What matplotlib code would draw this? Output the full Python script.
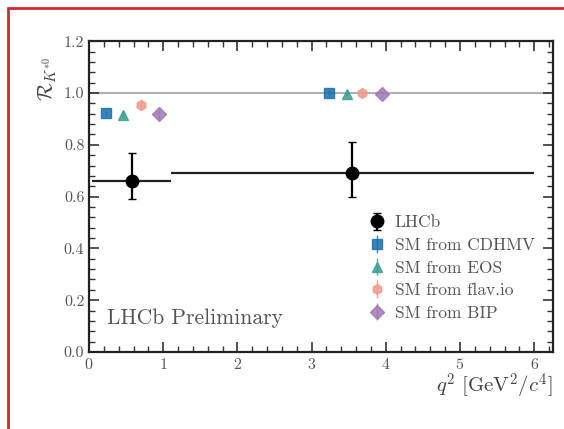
import matplotlib
matplotlib.use("Agg")
import matplotlib.pyplot as plt
from matplotlib.patches import Rectangle
from matplotlib.ticker import MultipleLocator

plt.rcParams['font.family'] = 'serif'
plt.rcParams['font.serif'] = ['cmr10', 'DejaVu Serif']
plt.rcParams['mathtext.fontset'] = 'cm'
plt.rcParams['axes.formatter.use_mathtext'] = True

# LHCb measurement
bin_lo = [0.045, 1.1]
bin_hi = [1.1, 6.0]
lhcb_val = [0.66, 0.69]
lhcb_up = [0.11, 0.12]
lhcb_dn = [0.07, 0.09]

# SM predictions (x position, value)
sm_names = ["SM from CDHMV", "SM from EOS", "SM from flav.io", "SM from BIP"]
sm_x = [[0.23, 3.23], [0.46, 3.47], [0.70, 3.68], [0.94, 3.95]]
sm_y = [[0.922, 1.000], [0.915, 0.996], [0.955, 1.000], [0.920, 0.995]]
sm_err = [[0.01, 0.01], [0.012, 0.008], [0.02, 0.01], [0.02, 0.01]]
sm_colors = ["#1a6fae", "#3a9e92", "#f09a88", "#a078b4"]
sm_markers = ["s", "^", "h", "D"]

fig = plt.figure(figsize=(5.64, 4.29), dpi=100)
ax = fig.add_axes([0.158, 0.1795, 0.822, 0.7245])

ax.axhline(1.0, color="#b0b0b0", lw=1.5, zorder=1)

handles = []
for xs, ys, es, c, m, n in zip(sm_x, sm_y, sm_err, sm_colors, sm_markers, sm_names):
    h = ax.errorbar(xs, ys, yerr=es, fmt=m, color=c, ms=7, elinewidth=1, alpha=0.85,
                    capsize=0, label=n, zorder=3)
    handles.append(h)

for lo, hi, v in zip(bin_lo, bin_hi, lhcb_val):
    ax.hlines(v, lo, hi, color="#222222", lw=1.6, zorder=4)
centers = [(lo + hi) / 2 for lo, hi in zip(bin_lo, bin_hi)]
hl = ax.errorbar(centers, lhcb_val, yerr=[lhcb_dn, lhcb_up], fmt="o", color="black",
                 ms=9, elinewidth=1.6, capsize=3, label="LHCb", zorder=5)

ax.set_xlim(0, 6.25)
ax.set_ylim(0, 1.2)
ax.xaxis.set_major_locator(MultipleLocator(1))
ax.xaxis.set_minor_locator(MultipleLocator(0.2))
ax.yaxis.set_major_locator(MultipleLocator(0.2))
ax.yaxis.set_minor_locator(MultipleLocator(0.04))
ax.yaxis.set_major_formatter(matplotlib.ticker.FormatStrFormatter('%.1f'))
ax.tick_params(which='both', direction='in', top=True, right=True, labelsize=11.5,
               colors='#333333', labelcolor='#555555')
ax.tick_params(which='major', length=7, width=1.2)
ax.tick_params(which='minor', length=4, width=1)
for s in ax.spines.values():
    s.set_linewidth(1.6)
    s.set_color('#222222')

ax.set_ylabel(r"$\mathcal{R}_{K^{*0}}$", fontsize=15, color='#444444')
ax.yaxis.set_label_coords(-0.065, 0.88)
ax.set_xlabel(r"$q^2\ [\mathrm{GeV}^2/c^4]$", fontsize=15, color='#444444')
ax.xaxis.set_label_coords(1.0, -0.065)
ax.xaxis.label.set_horizontalalignment('right')

ax.text(0.24, 0.11, "LHCb Preliminary", fontsize=15.5, color='#555555')

leg = ax.legend([hl] + handles, ["LHCb"] + sm_names, loc='lower right',
                bbox_to_anchor=(0.995, 0.05), frameon=False, fontsize=12.5,
                handletextpad=0.4, labelspacing=0.42, handlelength=1.2)
for t in leg.get_texts():
    t.set_color('#555555')

fig.patches.append(Rectangle((8 / 564, -0.1), 1.2, 1.1 - 8 / 429, transform=fig.transFigure,
                             fill=False, edgecolor="#d9262c", lw=2, zorder=10))

fig.savefig("out.png", dpi=100)
